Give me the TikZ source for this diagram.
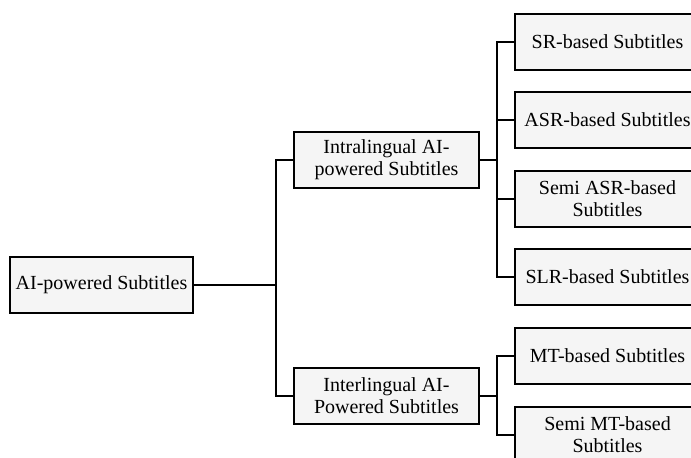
\documentclass[tikz,border=0pt]{standalone}
\usepackage{fontspec}
\setmainfont{Liberation Serif}
\usetikzlibrary{calc}
\definecolor{boxfill}{HTML}{F5F5F5}

\begin{document}
\begin{tikzpicture}[
      x=0.75pt, y=-0.75pt,
      box/.style={draw, fill=boxfill, line width=1.4pt, align=center,
        minimum height=42pt, inner sep=2pt,
        font=\fontsize{15}{16.5}\selectfont},
      wide/.style={box, minimum width=138.75pt},
      link/.style={draw, line width=1.4pt}]

      \clip (0,0) rectangle (691,457);
      \useasboundingbox (0,0) rectangle (691,457);

      % levels
      \node[box, minimum width=137.25pt] (root) at (101.5,285) {AI-powered Subtitles};
      \node[wide] (intra) at (386.5,160) {Intralingual AI-\\powered Subtitles};
      \node[wide] (inter) at (386.5,396) {Interlingual AI-\\Powered Subtitles};

      \foreach \n/\y/\lab in {sr/42/{SR-based Subtitles}, asr/120/{ASR-based Subtitles},
          sasr/199/{Semi ASR-based\\Subtitles}, slr/277/{SLR-based Subtitles},
          mt/356/{MT-based Subtitles}, smt/435/{Semi MT-based\\Subtitles}}{
        \node[wide] (\n) at (607.5,\y) {\lab};
      }

      % junctions
      \coordinate (jroot) at (276,0);
      \coordinate (jintra) at (497,0);
      \coordinate (jinter) at (497,0);

      % edges
      \foreach \c in {intra, inter}{
        \draw[link] (root.east) -- (root.east -| jroot) |- (\c.west);}
      \foreach \c in {sr, asr, sasr, slr}{
        \draw[link] (intra.east) -- (intra.east -| jintra) |- (\c.west);}
      \foreach \c in {mt, smt}{
        \draw[link] (inter.east) -- (inter.east -| jinter) |- (\c.west);}
    \end{tikzpicture}
\end{document}
